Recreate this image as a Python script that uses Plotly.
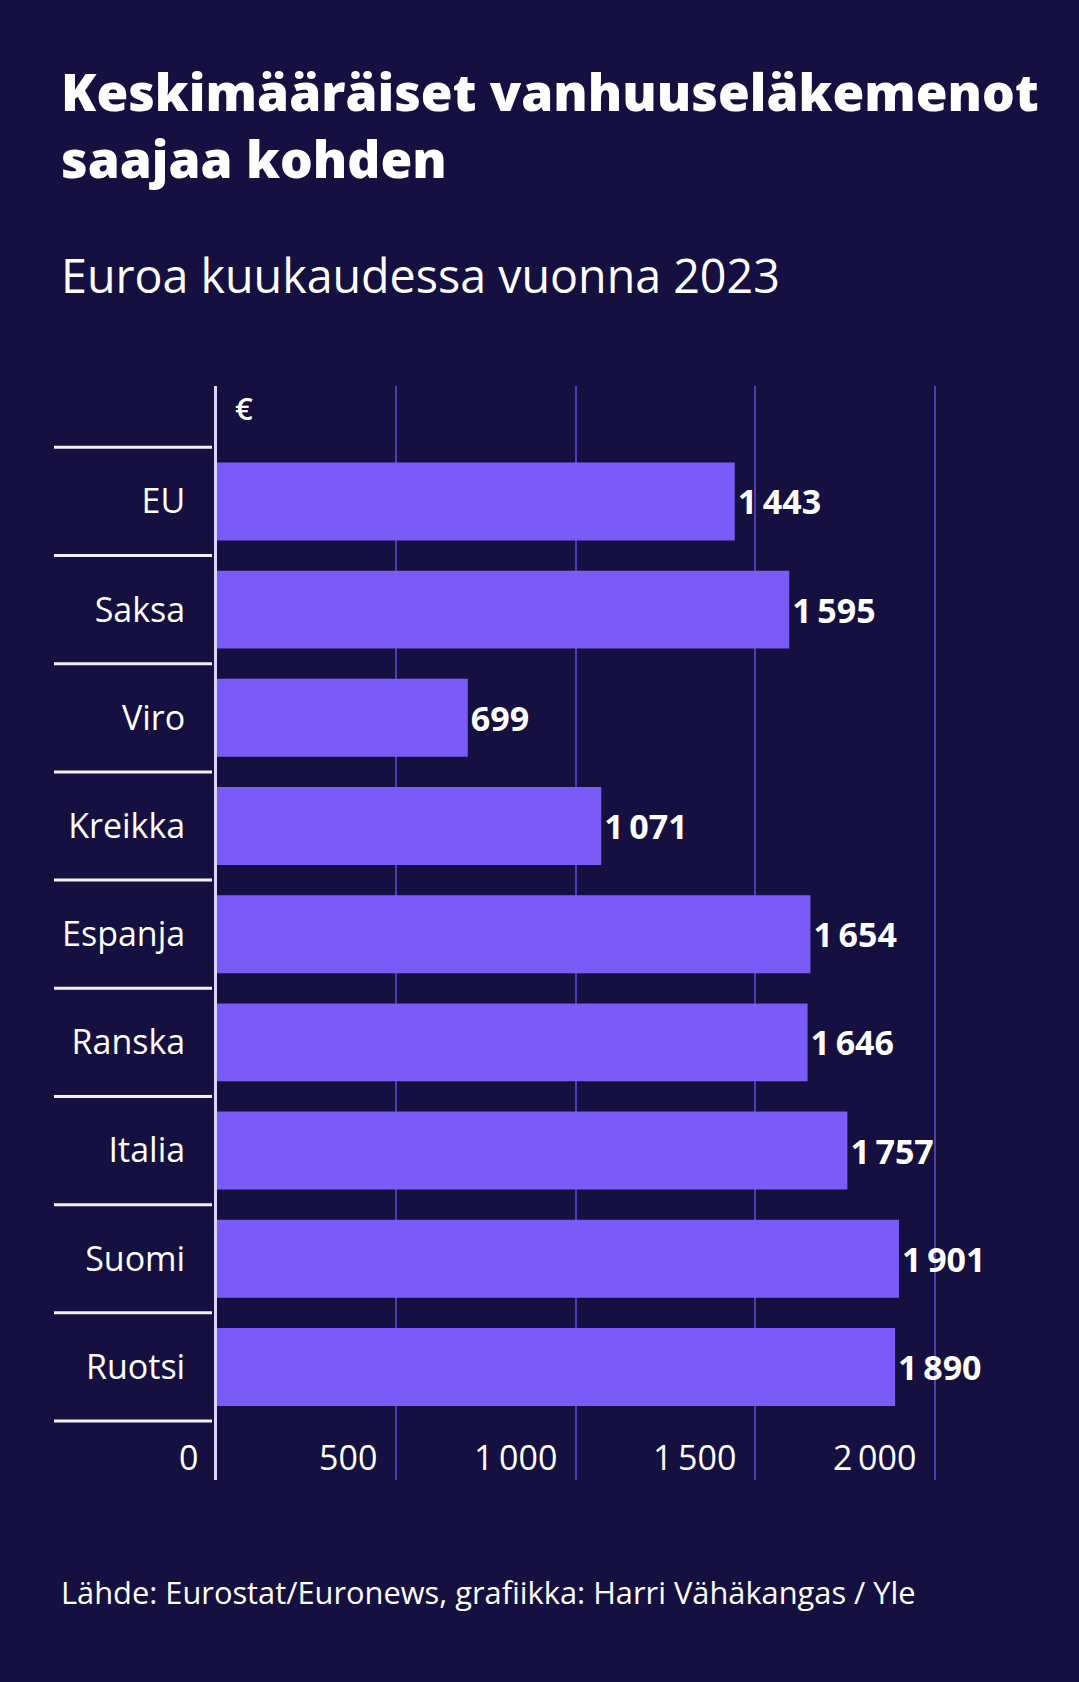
import plotly.graph_objects as go

# ---- data ----
countries = ["EU", "Saksa", "Viro", "Kreikka", "Espanja", "Ranska", "Italia", "Suomi", "Ruotsi"]
values = [1443, 1595, 699, 1071, 1654, 1646, 1757, 1901, 1890]
tick_vals = [0, 500, 1000, 1500, 2000]
tick_text = ["0", "500", "1\u2009000", "1\u2009500", "2\u2009000"]

title_text = "Keskimääräiset vanhuuseläkemenot<br>saajaa kohden"
subtitle_text = "Euroa kuukaudessa vuonna 2023"
footer_text = "Lähde: Eurostat/Euronews, grafiikka: Harri Vähäkangas / Yle"
unit_text = "€"

# ---- style ----
W, H = 1079, 1682
ML, MR, MT, MB = 217, 143, 386, 202
PW, PH = W - ML - MR, H - MT - MB
X_MAX = 2004
BG = "#15103f"
BAR = "#7b5bf8"
GRID = "#4c3db5"
FONT = "Open Sans"


def px_x(px):
    return (px - ML) / PW


def px_y(py):
    return (H - MB - py) / PH


fig = go.Figure()
fig.add_trace(go.Bar(
    x=values,
    y=countries,
    orientation="h",
    marker=dict(color=BAR, line=dict(width=0)),
    width=0.72,
    texttemplate="%{x:,}",
    textposition="outside",
    cliponaxis=False,
    textfont=dict(family=FONT, size=34, color="white", weight="bold"),
    hoverinfo="skip",
))

shapes = []
for i in range(len(countries) + 1):
    shapes.append(dict(
        type="line", xref="paper", yref="y",
        x0=px_x(54), x1=px_x(212), y0=i - 0.5, y1=i - 0.5,
        line=dict(color="#f2f0fa", width=3), layer="above",
    ))

annotations = [
    dict(text=title_text, xref="paper", yref="paper", x=px_x(59), y=px_y(124),
         xanchor="left", yanchor="middle", align="left", showarrow=False,
         font=dict(family=FONT, size=51.5, color="white", weight=800)),
    dict(text=subtitle_text, xref="paper", yref="paper", x=px_x(59), y=px_y(275),
         xanchor="left", yanchor="middle", align="left", showarrow=False,
         font=dict(family=FONT, size=46.6, color="white", weight=400)),
    dict(text=footer_text, xref="paper", yref="paper", x=px_x(59), y=px_y(1592),
         xanchor="left", yanchor="middle", align="left", showarrow=False,
         font=dict(family=FONT, size=30.8, color="white")),
    dict(text=unit_text, xref="paper", yref="paper", x=px_x(233), y=px_y(408),
         xanchor="left", yanchor="middle", showarrow=False,
         font=dict(family=FONT, size=31, color="white", weight=600)),
]
for v, t in zip(tick_vals, tick_text):
    annotations.append(dict(
        text=t, xref="x", yref="paper", x=v, y=px_y(1457), xshift=-17,
        xanchor="right", yanchor="middle", showarrow=False,
        font=dict(family=FONT, size=34, color="white", weight=500),
    ))

fig.update_layout(
    width=W, height=H,
    margin=dict(l=ML, r=MR, t=MT, b=MB, pad=0),
    paper_bgcolor=BG, plot_bgcolor=BG,
    separators=",\u2009",
    showlegend=False,
    shapes=shapes,
    annotations=annotations,
    xaxis=dict(
        range=[0, X_MAX],
        tickvals=tick_vals,
        showgrid=True, gridcolor=GRID, gridwidth=2,
        zeroline=False, showline=False,
        ticks="", showticklabels=False,
        fixedrange=True,
    ),
    yaxis=dict(
        categoryorder="array", categoryarray=countries,
        range=[len(countries) - 0.5 + 0.545, -0.5 - 0.567],
        showgrid=False, zeroline=False,
        showline=True, linecolor="#dcd6ff", linewidth=3,
        ticks="", ticklabelstandoff=22,
        tickfont=dict(family=FONT, size=34, color="white", weight=500),
        fixedrange=True,
    ),
)

fig.write_html("out.html")
